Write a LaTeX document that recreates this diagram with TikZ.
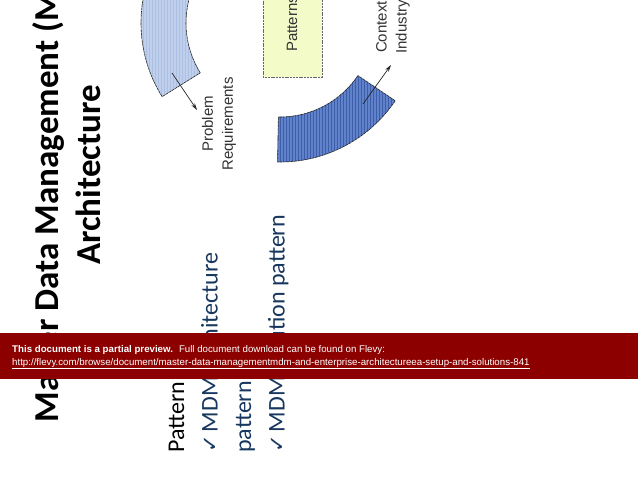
\documentclass[tikz,border=0pt]{standalone}
\usepackage{fontspec}
\setmainfont{Carlito}
\newfontfamily\arialfont{Liberation Sans}
\newfontfamily\symfont{DejaVu Sans}
\usetikzlibrary{arrows.meta}

\definecolor{navy}{RGB}{23,55,94}
\definecolor{lightband}{RGB}{192,208,236}
\definecolor{lightstripe}{RGB}{172,192,228}
\definecolor{darkband}{RGB}{96,130,202}
\definecolor{darkstripe}{RGB}{62,94,170}
\definecolor{boxfill}{RGB}{243,251,201}
\definecolor{flevyred}{RGB}{140,0,0}

\newcommand\checkmk{{\symfont\fontsize{21}{21}\selectfont ✓}\hspace{3pt}}

\tikzset{
  band/.style={draw=black!85, line width=0.6pt, dash pattern=on 3pt off 0.6pt},
  stripe/.style={line width=0.8pt},
  title/.style={font=\bfseries\fontsize{35}{42}\selectfont, rotate=90, inner sep=0pt},
  body/.style={font=\fontsize{24}{29}\selectfont, rotate=90, inner sep=0pt, anchor=base west},
  lbl/.style={font=\arialfont\fontsize{15}{20}\selectfont, text=black!80, align=center, rotate=90, inner sep=0pt},
  pointer/.style={-{Stealth[length=7pt,width=4pt]}, line width=0.7pt, black!85},
  banner/.style={font=\arialfont\fontsize{9.7}{12}\selectfont, text=white, inner sep=0pt, anchor=base west}
}

\begin{document}
\begin{tikzpicture}[x=1pt,y=-1pt]
  \clip (0,0) rectangle (638,493);
  \fill[white] (0,0) rectangle (638,493);

  % title
  \node[title, anchor=base] (title1) at (58,175) {Master Data Management (MDM)};
  \node[title, anchor=base] (title2) at (100,175) {Architecture};

  % cycle picture
  \coordinate (c) at (280,23);
  \begin{scope}
    \clip[shift={(c)}] (148:94) arc[start angle=148, end angle=205, radius=94]
      -- (205:139) arc[start angle=205, end angle=148, radius=139] -- cycle;
    \fill[lightband] (130,-20) rectangle (210,110);
    \foreach \x in {131,134,...,210}
      \draw[stripe, lightstripe] (\x,-20) -- (\x,110);
  \end{scope}
  \draw[band, shift={(c)}] (148:94) arc[start angle=148, end angle=205, radius=94]
    -- (205:139) arc[start angle=205, end angle=148, radius=139] -- cycle;
  \begin{scope}
    \clip[shift={(c)}] (34:94) arc[start angle=34, end angle=91, radius=94]
      -- (91:139) arc[start angle=91, end angle=34, radius=139] -- cycle;
    \fill[darkband] (270,60) rectangle (400,170);
    \foreach \x in {271,274,...,400}
      \draw[stripe, darkstripe] (\x,60) -- (\x,170);
  \end{scope}
  \draw[band, shift={(c)}] (34:94) arc[start angle=34, end angle=91, radius=94]
    -- (91:139) arc[start angle=91, end angle=34, radius=139] -- cycle;
  \draw[draw=black!60, dash pattern=on 2pt off 0.8pt, fill=boxfill] (263,-5) rectangle (322,77);
  \node[lbl, anchor=base west] (patterns) at (297,52) {Patterns};

  \node[lbl] (problem) at (219,124) {Problem\\Requirements};
  \node[lbl] (context) at (393,27) {Context\\Industry};

  \coordinate (probtail) at (172,73);
  \coordinate (probhead) at (197,110);
  \coordinate (ctxtail) at (363,104);
  \coordinate (ctxhead) at (391,65);
  \draw[pointer] (probtail) -- (probhead);
  \draw[pointer] (ctxtail) -- (ctxhead);

  % bullet text
  \node[body] (line1) at (184,453) {Pattern};
  \node[body, text=navy] (line2) at (217.5,453) {\checkmk MDM architecture};
  \node[body, text=navy] (line3) at (251,453) {pattern};
  \node[body, text=navy] (line4) at (284.5,453) {\checkmk MDM solution pattern};

  % preview banner
  \fill[flevyred] (0,333) rectangle (638,379);
  \node[banner] (note) at (12,352) {\textbf{This document is a partial preview.}\hspace{6pt}Full document download can be found on Flevy:};
  \node[banner] (link) at (12,365) {\underline{http://flevy.com/browse/document/master-data-managementmdm-and-enterprise-architectureea-setup-and-solutions-841}};
\end{tikzpicture}
\end{document}
